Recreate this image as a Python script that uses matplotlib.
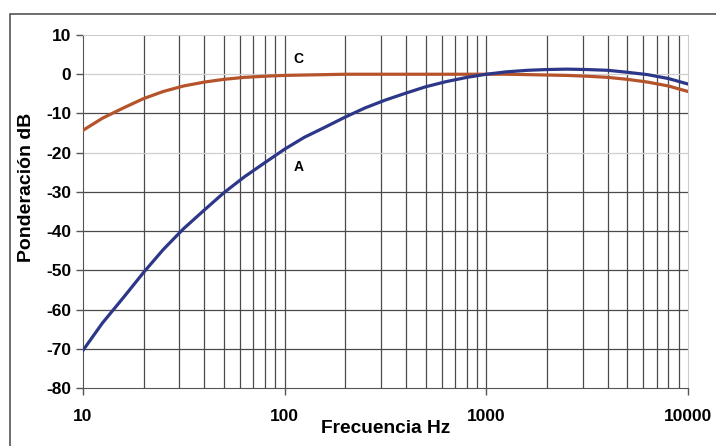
import matplotlib.pyplot as plt
import matplotlib.ticker as mticker
from matplotlib.patches import Rectangle

# Curvas de ponderación A y C (valores por tercio de octava)
freq = [10, 12.5, 16, 20, 25, 31.5, 40, 50, 63, 80, 100, 125, 160, 200, 250,
        315, 400, 500, 630, 800, 1000, 1250, 1600, 2000, 2500, 3150, 4000,
        5000, 6300, 8000, 10000]
pond_a = [-70.4, -63.4, -56.7, -50.5, -44.7, -39.4, -34.6, -30.2, -26.2, -22.5,
          -19.1, -16.1, -13.4, -10.9, -8.6, -6.6, -4.8, -3.2, -1.9, -0.8,
          0.0, 0.6, 1.0, 1.2, 1.3, 1.2, 1.0, 0.5, -0.1, -1.1, -2.5]
pond_c = [-14.3, -11.2, -8.5, -6.2, -4.4, -3.0, -2.0, -1.3, -0.8, -0.5,
          -0.3, -0.2, -0.1, 0.0, 0.0, 0.0, 0.0, 0.0, 0.0, 0.0,
          0.0, 0.0, -0.1, -0.2, -0.3, -0.5, -0.8, -1.3, -2.0, -3.0, -4.4]

y_ticks = [10, 0, -10, -20, -30, -40, -50, -60, -70, -80]
x_ticks = [10, 100, 1000, 10000]
light_rows = [10, 0, -20]

plt.rcParams['font.family'] = ['Liberation Sans', 'DejaVu Sans']
plt.rcParams['axes.unicode_minus'] = False

fig = plt.figure(figsize=(7.16, 4.46), dpi=100)
ax = fig.add_axes([0.1159, 0.130, 0.845, 0.7915])

# marco exterior
fig.patches.append(Rectangle((10 / 716, -0.05), 1.2, (446 - 14) / 446 + 0.05,
                             transform=fig.transFigure, fill=False,
                             edgecolor='#555555', lw=1.2))

ax.set_xscale('log')
ax.set_xlim(10, 10000)
ax.set_ylim(-80, 10)

# rejilla
for f in [d * m for d in (10, 100, 1000) for m in range(2, 10)] + [100, 1000]:
    ax.axvline(f, color='#4a4a4a', lw=0.9, zorder=1)
for v in y_ticks[1:-1]:
    c = '#cfcfcf' if v in light_rows else '#4a4a4a'
    ax.axhline(v, color=c, lw=0.9, zorder=1)

ax.plot(freq, pond_c, color='#b5532b', lw=2.3, zorder=3)
ax.plot(freq, pond_a, color='#2d3789', lw=2.3, zorder=3)

ax.text(117, 4.0, 'C', fontsize=10, fontweight='bold', ha='center', va='center')
ax.text(117, -23.7, 'A', fontsize=10, fontweight='bold', ha='center', va='center')

ax.set_yticks(y_ticks)
ax.xaxis.set_major_locator(mticker.FixedLocator(x_ticks))
ax.xaxis.set_minor_locator(mticker.NullLocator())
ax.xaxis.set_major_formatter(mticker.FuncFormatter(lambda v, p: '%d' % v))
ax.tick_params(axis='both', labelsize=12.5, colors='#555555', labelcolor='black',
               length=5, width=1)
for lab in ax.get_xticklabels() + ax.get_yticklabels():
    lab.set_fontweight('bold')
ax.tick_params(axis='x', pad=10)

for s in ['left', 'bottom']:
    ax.spines[s].set_color('#555555')
for s in ['top', 'right']:
    ax.spines[s].set_color('#cccccc')

ax.set_xlabel('Frecuencia Hz', fontsize=13.8, fontweight='bold', labelpad=-3)
ax.set_ylabel('Ponderación dB', fontsize=14, fontweight='bold')
ax.yaxis.set_label_coords(-0.08, 0.569)

fig.savefig('out.png', dpi=100)
